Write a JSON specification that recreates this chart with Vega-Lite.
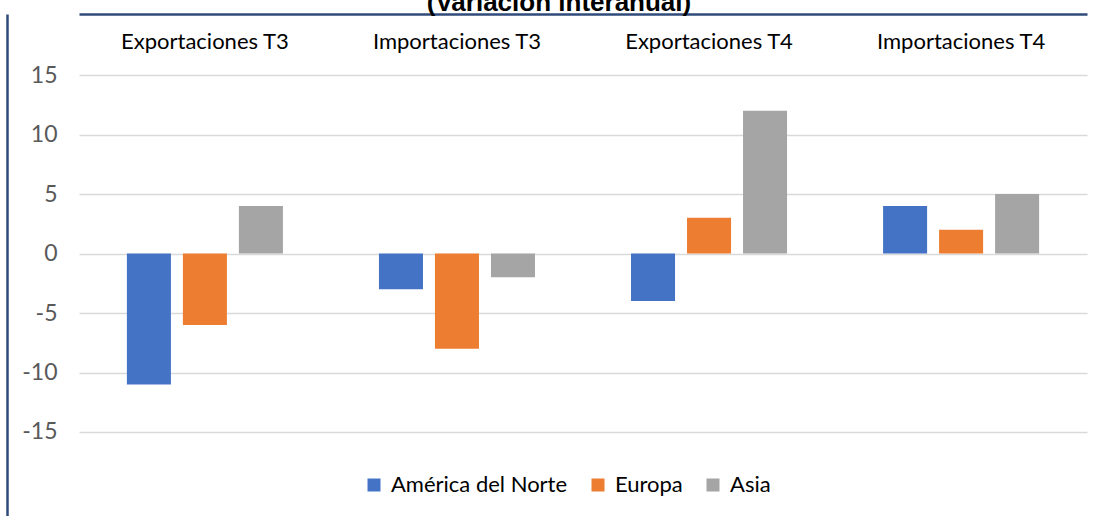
{
  "$schema": "https://vega.github.io/schema/vega-lite/v6.json",
  "width": 1008,
  "height": 502,
  "autosize": {"type": "none"},
  "padding": {"left": 79, "top": 14, "right": 16, "bottom": 0},
  "background": "white",
  "title": {
    "text": "(Variación interanual)",
    "font": "Liberation Sans",
    "fontSize": 26,
    "fontWeight": "bold",
    "color": "#000000",
    "anchor": "middle",
    "frame": "group",
    "dx": -24,
    "dy": 24,
    "baseline": "alphabetic",
    "offset": 1
  },
  "data": {
    "values": [
      {"categoria": "Exportaciones T3", "region": "América del Norte", "valor": -11},
      {"categoria": "Exportaciones T3", "region": "Europa", "valor": -6},
      {"categoria": "Exportaciones T3", "region": "Asia", "valor": 4},
      {"categoria": "Importaciones T3", "region": "América del Norte", "valor": -3},
      {"categoria": "Importaciones T3", "region": "Europa", "valor": -8},
      {"categoria": "Importaciones T3", "region": "Asia", "valor": -2},
      {"categoria": "Exportaciones T4", "region": "América del Norte", "valor": -4},
      {"categoria": "Exportaciones T4", "region": "Europa", "valor": 3},
      {"categoria": "Exportaciones T4", "region": "Asia", "valor": 12},
      {"categoria": "Importaciones T4", "region": "América del Norte", "valor": 4},
      {"categoria": "Importaciones T4", "region": "Europa", "valor": 2},
      {"categoria": "Importaciones T4", "region": "Asia", "valor": 5}
    ]
  },
  "mark": {"type": "bar"},
  "encoding": {
    "x": {
      "field": "categoria",
      "type": "nominal",
      "sort": ["Exportaciones T3", "Importaciones T3", "Exportaciones T4", "Importaciones T4"],
      "scale": {"paddingInner": 0.381, "paddingOuter": 0.19},
      "title": null,
      "axis": {
        "orient": "top",
        "domain": true,
        "domainColor": "#2F4B7A",
        "domainWidth": 2.5,
        "ticks": false,
        "tickSize": 0,
        "grid": false,
        "labelAngle": 0,
        "labelPadding": -34,
        "labelBaseline": "alphabetic",
        "labelFont": "Lato",
        "labelFontSize": 22,
        "labelColor": "#000000"
      }
    },
    "xOffset": {
      "field": "region",
      "type": "nominal",
      "sort": ["América del Norte", "Europa", "Asia"],
      "scale": {"paddingInner": 0.214, "paddingOuter": 0}
    },
    "y": {
      "field": "valor",
      "type": "quantitative",
      "scale": {"domain": [-22.06, 20.13], "nice": false},
      "title": null,
      "axis": {
        "orient": "left",
        "offset": 72,
        "domain": true,
        "domainColor": "#2F4B7A",
        "domainWidth": 2.5,
        "ticks": false,
        "tickSize": 0,
        "grid": true,
        "gridColor": "#D9D9D9",
        "gridWidth": 1.3,
        "values": [-15, -10, -5, 0, 5, 10, 15],
        "labelExpr": "'' + datum.value",
        "labelPadding": -50,
        "labelFont": "Lato",
        "labelFontSize": 23,
        "labelColor": "#595959"
      }
    },
    "y2": {"datum": 0},
    "color": {
      "field": "region",
      "type": "nominal",
      "scale": {"domain": ["América del Norte", "Europa", "Asia"], "range": ["#4472C4", "#ED7D31", "#A5A5A5"]},
      "title": null,
      "legend": {
        "orient": "none",
        "legendX": 284,
        "legendY": 460,
        "direction": "horizontal",
        "symbolType": "square",
        "symbolSize": 169,
        "symbolStrokeWidth": 0,
        "symbolOpacity": 1,
        "labelFont": "Lato",
        "labelFontSize": 22,
        "labelColor": "#000000",
        "labelOffset": 6,
        "labelLimit": 400,
        "columnPadding": 19,
        "padding": 0
      }
    }
  },
  "config": {"view": {"stroke": null}}
}
